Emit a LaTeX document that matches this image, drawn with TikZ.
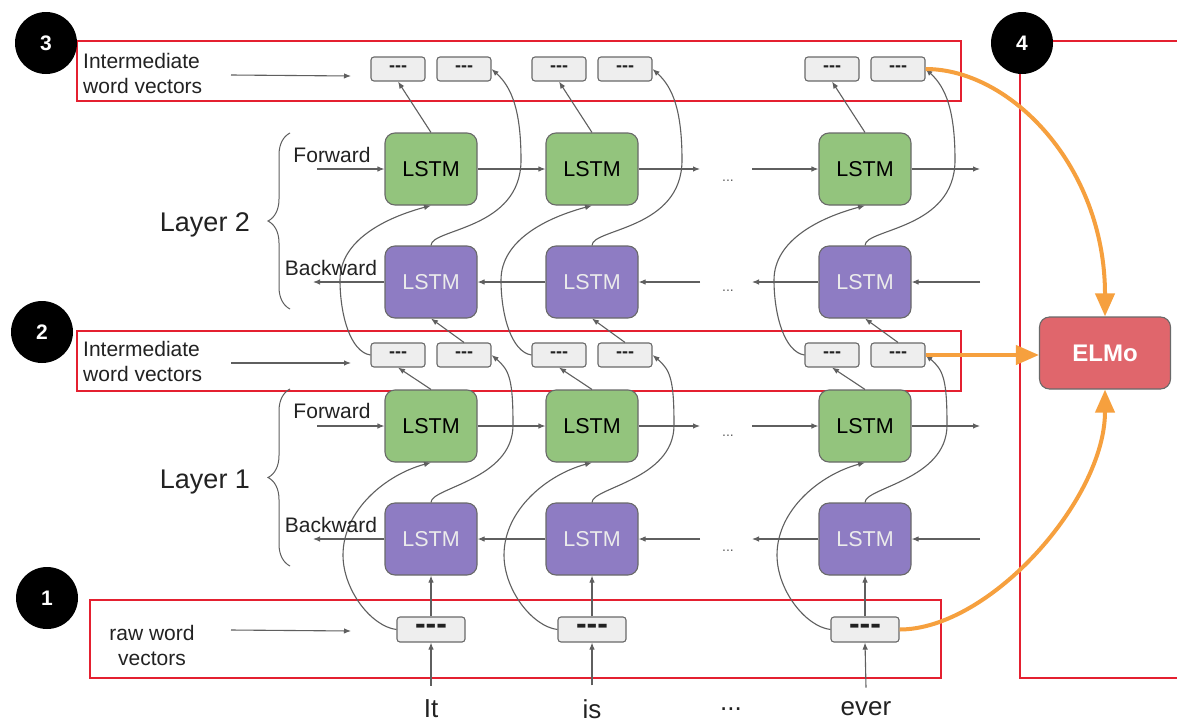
\documentclass[tikz,border=0pt]{standalone}
\usepackage{fontspec}
\setmainfont{Liberation Sans}
\usetikzlibrary{arrows.meta,decorations.pathreplacing,calc}
\definecolor{lgreen}{RGB}{147,196,125}
\definecolor{lpurple}{RGB}{142,124,195}
\definecolor{boxline}{RGB}{105,105,105}
\definecolor{arrgray}{RGB}{95,95,95}
\definecolor{redline}{RGB}{228,32,48}
\definecolor{orng}{RGB}{246,160,62}
\definecolor{elmofill}{RGB}{224,102,108}
\definecolor{vecfill}{RGB}{238,238,238}
\definecolor{txt}{RGB}{34,34,34}
\begin{document}
\begin{tikzpicture}[x=1pt,y=-1pt,
  lstmg/.style={draw=boxline, fill=lgreen, rounded corners=10pt, minimum width=92pt, minimum height=72pt, line width=1.1pt, font=\fontsize{21.5}{25}\selectfont, text=black},
  lstmp/.style={lstmg, fill=lpurple, text=white!92!black},
  vec/.style={draw=boxline, fill=vecfill, rounded corners=3pt, minimum width=54pt, minimum height=24pt, inner sep=0pt, line width=1.1pt, font=\bfseries\fontsize{18}{20}\selectfont, text=txt},
  rawvec/.style={vec, minimum width=68pt, minimum height=25pt, font=\bfseries\fontsize{32}{32}\selectfont},
  ar/.style={draw=arrgray, line width=1.1pt, -{Latex[length=7pt,width=5.5pt]}},
  oar/.style={draw=orng, line width=4pt, -{Triangle[length=23pt,width=19pt]}},
  redbox/.style={draw=redline, line width=1.8pt},
  num/.style={circle, fill=black, minimum size=62pt, inner sep=0pt, text=white, font=\bfseries\fontsize{21}{22}\selectfont},
  lbl/.style={font=\fontsize{21}{25}\selectfont, text=txt, inner sep=0pt},
  layerlbl/.style={font=\fontsize{27}{30}\selectfont, text=txt, inner sep=0pt},
  word/.style={font=\fontsize{26}{30}\selectfont, text=txt, inner sep=0pt},
  dots/.style={font=\fontsize{14}{16}\selectfont, text=arrgray, inner sep=0pt},
  elmo/.style={draw=boxline, fill=elmofill, rounded corners=10pt, minimum width=131pt, minimum height=72pt, line width=1.1pt, text=white, font=\bfseries\fontsize{24}{28}\selectfont},
  brc/.style={draw=arrgray, line width=1pt, decorate, decoration={brace, amplitude=22pt}}
]
\fill[white] (0,0) rectangle (1177,723);
\useasboundingbox (0,0) rectangle (1177,723);

% red frames
\draw[redbox] (77,41) rectangle (961,101);
\draw[redbox] (77,331) rectangle (961,391);
\draw[redbox] (90,600) rectangle (941,678);
\draw[redbox] (1177,41) -- (1020,41) -- (1020,678) -- (1177,678);

% number circles
\node[num] (n3) at (46,43) {3};
\node[num] (n4) at (1022,43) {4};
\node[num] (n2) at (42,332) {2};
\node[num] (n1) at (47,598) {1};

% boxes
\foreach \i/\X in {1/431,2/592,3/865}{
  \node[lstmg] (g2\i) at (\X,169) {LSTM};
  \node[lstmp] (p2\i) at (\X,282) {LSTM};
  \node[lstmg] (g1\i) at (\X,426) {LSTM};
  \node[lstmp] (p1\i) at (\X,539) {LSTM};
  \node[vec] (ta\i) at (\X-33,69) {-{}-{}-};
  \node[vec] (tb\i) at (\X+33,69) {-{}-{}-};
  \node[vec] (ma\i) at (\X-33,355) {-{}-{}-};
  \node[vec] (mb\i) at (\X+33,355) {-{}-{}-};
  \node[rawvec] (r\i) at (\X,629.5) {-{}-{}-};
}

% words
\node[word] (w1) at (431,709) {It};
\node[word] (w2) at (592,709) {is};
\node[word] (wd) at (731,709) {...};
\node[word] (w3) at (866,709) {ever};

% vertical connectors
\foreach \i/\X in {1/431,2/592,3/865}{
  \draw[ar] (g2\i.north) -- (ta\i.south);
  \draw[ar] (mb\i.north) -- (p2\i.south);
  \draw[ar] (p2\i.north) .. controls +(0,-17) and +(0,70) .. (\X+90,160) .. controls +(0,-50) and +(20,18) .. (tb\i.east);
  \draw[ar] (ma\i.west) .. controls +(-20,-3) and +(0,35) .. (\X-91,280) .. controls +(0,-40) and +(-45,12) .. (g2\i.south);
  \draw[ar] (g1\i.north) -- (ma\i.south);
  \draw[ar] (p1\i.north) .. controls +(0,-15) and +(0,55) .. (\X+82,425) .. controls +(0,-45) and +(18,15) .. (mb\i.east);
  \draw[ar] (r\i.west) .. controls +(-25,-3) and +(0,35) .. (\X-88,555) .. controls +(0,-45) and +(-45,12) .. (g1\i.south);
  \draw[ar] (r\i.north) -- (p1\i.south);
  \draw[ar] ($(w\i.north)+(0,-14)$) -- (r\i.south);
}

% horizontal rows
\foreach \L/\yf/\yb in {2/169/282,1/426/539}{
  \coordinate (fin\L) at (317,\yf);
  \coordinate (fa\L) at (700,\yf);
  \coordinate (fb\L) at (752,\yf);
  \coordinate (fout\L) at (980,\yf);
  \draw[ar] (fin\L) -- (g\L1.west);
  \draw[ar] (g\L1.east) -- (g\L2.west);
  \draw[ar] (g\L2.east) -- (fa\L);
  \draw[ar] (fb\L) -- (g\L3.west);
  \draw[ar] (g\L3.east) -- (fout\L);
  \coordinate (bin\L) at (980,\yb);
  \coordinate (ba\L) at (752,\yb);
  \coordinate (bb\L) at (700,\yb);
  \coordinate (bout\L) at (313,\yb);
  \draw[ar] (bin\L) -- (p\L3.east);
  \draw[ar] (p\L3.west) -- (ba\L);
  \draw[ar] (bb\L) -- (p\L2.east);
  \draw[ar] (p\L2.west) -- (p\L1.east);
  \draw[ar] (p\L1.west) -- (bout\L);
}
\node[dots] (d1) at (728,181) {...};
\node[dots] (d2) at (728,291) {...};
\node[dots] (d3) at (728,436) {...};
\node[dots] (d4) at (728,551) {...};

% row labels
\node[lbl] (fw2) at (332,155) {Forward};
\node[lbl] (bw2) at (331,268) {Backward};
\node[lbl] (fw1) at (332,411) {Forward};
\node[lbl] (bw1) at (331,525) {Backward};

% braces
\draw[brc] (290,309) -- (290,133);
\draw[brc] (290,566) -- (290,389);
\node[layerlbl] (lay2) at (205,225) {Layer 2};
\node[layerlbl] (lay1) at (205,482) {Layer 1};

% left labels
\node[lbl, anchor=west, align=left] (lt) at (83,73.5) {Intermediate\\word vectors};
\node[lbl, anchor=west, align=left] (lm) at (83,361) {Intermediate\\word vectors};
\node[lbl, align=center] (lb) at (152,645) {raw word\\vectors};
\coordinate (lts) at (231,75); \coordinate (lte) at (351,76);
\coordinate (lms) at (231,363); \coordinate (lme) at (351,363);
\coordinate (lbs) at (231,630); \coordinate (lbe) at (351,631);
\draw[ar] (lts) -- (lte);
\draw[ar] (lms) -- (lme);
\draw[ar] (lbs) -- (lbe);

% ELMo
\node[elmo] (elmo) at (1105,353) {ELMo};
\draw[oar] (tb3.east) .. controls +(85,0) and +(0,-150) .. (elmo.north);
\draw[oar] (mb3.east) -- (mb3.east -| elmo.west);
\draw[oar] (r3.east) .. controls +(90,0) and +(0,110) .. (elmo.south);
\end{tikzpicture}
\end{document}
